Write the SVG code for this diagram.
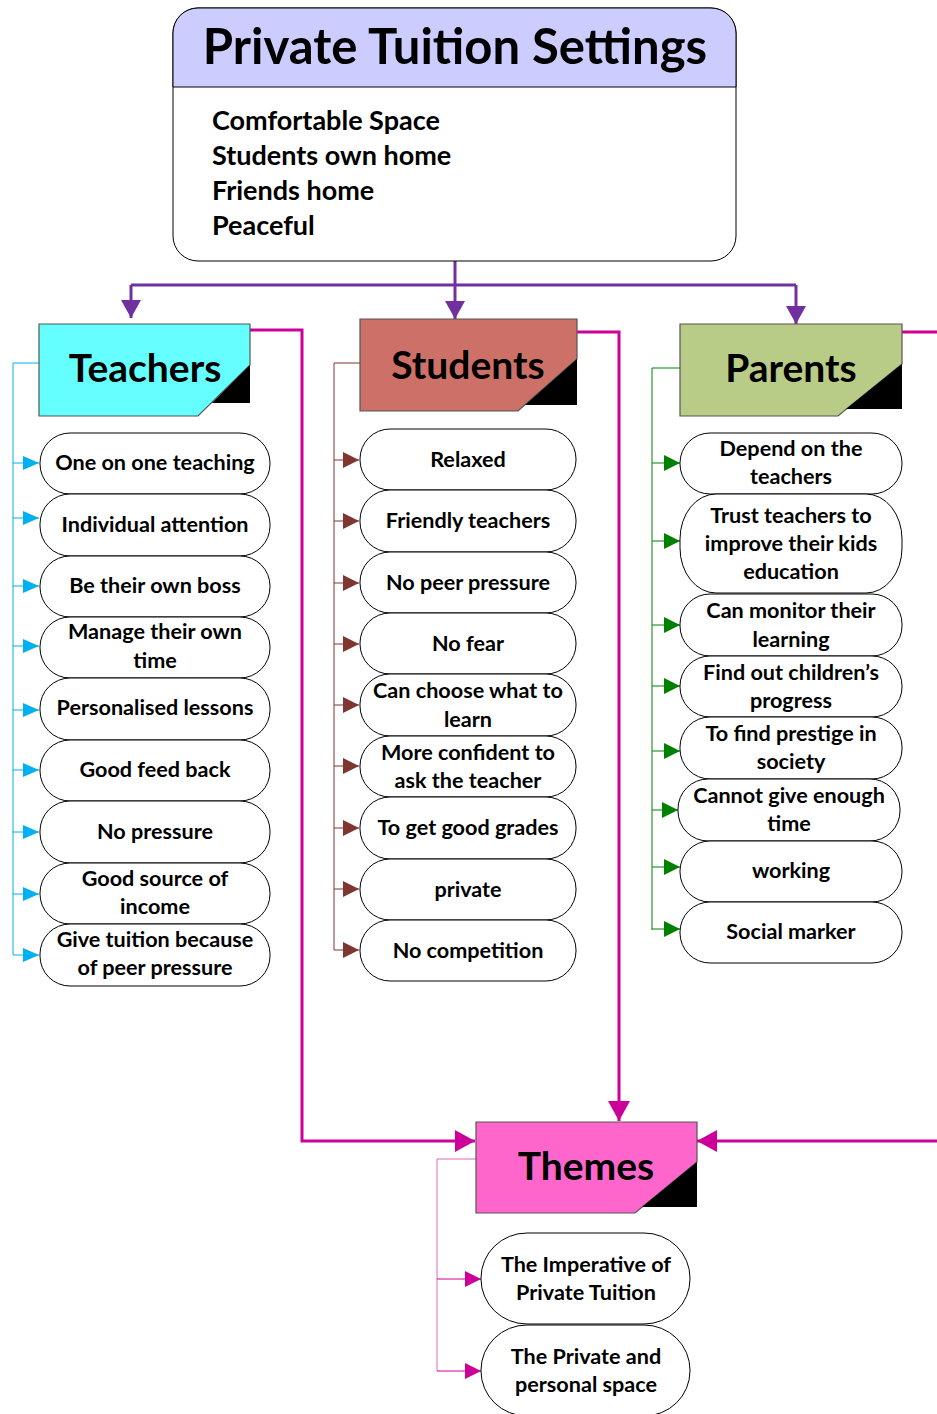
<svg xmlns="http://www.w3.org/2000/svg" width="937" height="1414" viewBox="0 0 937 1414">
<defs>
<style>
text{font-family:Lato,"Open Sans","Liberation Sans",sans-serif;font-weight:700;fill:#000}
.t{font-size:21.6px;text-anchor:middle}
.h{font-size:39px;text-anchor:middle}
.node{fill:#fff;stroke:#000;stroke-width:1}
.hdr{stroke:#555;stroke-width:1.2}
.big{fill:none;stroke-width:3}
</style>
<marker id="aP" markerUnits="userSpaceOnUse" markerWidth="20" markerHeight="20" refX="18" refY="10" orient="auto"><path d="M0,0 L18,10 L0,20 Z" fill="#7030a0"/></marker>
<marker id="aM" markerUnits="userSpaceOnUse" markerWidth="20" markerHeight="22" refX="20" refY="11" orient="auto"><path d="M0,0 L20,11 L0,22 Z" fill="#cc0099"/></marker>
<marker id="aB" markerUnits="userSpaceOnUse" markerWidth="16" markerHeight="14" refX="16" refY="7" orient="auto"><path d="M0,0 L16,7 L0,14 Z" fill="#00b0f0"/></marker>
<marker id="aR" markerUnits="userSpaceOnUse" markerWidth="16" markerHeight="16" refX="16" refY="8" orient="auto"><path d="M0,0 L16,8 L0,16 Z" fill="#7f3530"/></marker>
<marker id="aG" markerUnits="userSpaceOnUse" markerWidth="16" markerHeight="16" refX="16" refY="8" orient="auto"><path d="M0,0 L16,8 L0,16 Z" fill="#008000"/></marker>
<marker id="aT" markerUnits="userSpaceOnUse" markerWidth="16" markerHeight="16" refX="16" refY="8" orient="auto"><path d="M0,0 L16,8 L0,16 Z" fill="#cc0099"/></marker>
</defs>
<rect width="937" height="1414" fill="#fff"/>

<g id="connectors">
<path class="big" stroke="#7030a0" d="M455,261 V285 M131,285 H796"/>
<path class="big" stroke="#7030a0" d="M131,285 V318" marker-end="url(#aP)"/>
<path class="big" stroke="#7030a0" d="M455,285 V319" marker-end="url(#aP)"/>
<path class="big" stroke="#7030a0" d="M796,285 V324" marker-end="url(#aP)"/>
<path class="big" stroke="#cc0099" d="M250,330 H302 V1141 H475" marker-end="url(#aM)"/>
<path class="big" stroke="#cc0099" d="M577,332 H619 V1121" marker-end="url(#aM)"/>
<path class="big" stroke="#cc0099" d="M902,332 H937"/>
<path class="big" stroke="#cc0099" d="M937,1141 H697" marker-end="url(#aM)"/>
<g fill="none" stroke="#00b0f0" stroke-width="1">
<path d="M39,363 H13 V955"/>
<path d="M13,463 H39" marker-end="url(#aB)"/>
<path d="M13,518 H39" marker-end="url(#aB)"/>
<path d="M13,586 H39" marker-end="url(#aB)"/>
<path d="M13,646 H39" marker-end="url(#aB)"/>
<path d="M13,710 H39" marker-end="url(#aB)"/>
<path d="M13,770 H39" marker-end="url(#aB)"/>
<path d="M13,832 H39" marker-end="url(#aB)"/>
<path d="M13,894 H39" marker-end="url(#aB)"/>
<path d="M13,955 H39" marker-end="url(#aB)"/>
</g>
<g fill="none" stroke="#7f3530" stroke-width="1">
<path d="M360,363 H334 V950"/>
<path d="M334,460 H359" marker-end="url(#aR)"/>
<path d="M334,521 H359" marker-end="url(#aR)"/>
<path d="M334,583 H359" marker-end="url(#aR)"/>
<path d="M334,644 H359" marker-end="url(#aR)"/>
<path d="M334,705 H359" marker-end="url(#aR)"/>
<path d="M334,766 H359" marker-end="url(#aR)"/>
<path d="M334,828 H359" marker-end="url(#aR)"/>
<path d="M334,889 H359" marker-end="url(#aR)"/>
<path d="M334,950 H359" marker-end="url(#aR)"/>
</g>
<g fill="none" stroke="#008000" stroke-width="1">
<path d="M680,368 H652 V930"/>
<path d="M652,463 H680" marker-end="url(#aG)"/>
<path d="M652,541 H680" marker-end="url(#aG)"/>
<path d="M652,625 H680" marker-end="url(#aG)"/>
<path d="M652,686 H680" marker-end="url(#aG)"/>
<path d="M652,751 H680" marker-end="url(#aG)"/>
<path d="M652,810 H678" marker-end="url(#aG)"/>
<path d="M652,867 H680" marker-end="url(#aG)"/>
<path d="M652,929 H680" marker-end="url(#aG)"/>
</g>
<g fill="none" stroke="#cc0099" stroke-width="1">
<path d="M476,1159 H437 V1371" stroke="#e066c0"/>
<path d="M437,1279 H481" marker-end="url(#aT)"/>
<path d="M437,1371 H481" marker-end="url(#aT)"/>
</g>
</g>

<g id="settings">
<path d="M198,8 H711 A25,25 0 0 1 736,33 V236 A25,25 0 0 1 711,261 H198 A25,25 0 0 1 173,236 V33 A25,25 0 0 1 198,8 Z" fill="#fff" stroke="#000" stroke-width="1"/>
<path d="M198,8 H711 A25,25 0 0 1 736,33 V87 H173 V33 A25,25 0 0 1 198,8 Z" fill="#ccccff" stroke="#000" stroke-width="1"/>
<text x="455" y="64" font-size="49" text-anchor="middle">Private Tuition Settings</text>
<text x="212" y="130" font-size="27">Comfortable Space</text>
<text x="212" y="165" font-size="27">Students own home</text>
<text x="212" y="200" font-size="27">Friends home</text>
<text x="212" y="235" font-size="27">Peaceful</text>
</g>

<g id="teachers">
<path class="hdr" d="M39,324 H250 V365 L198,416 H39 Z" fill="#66ffff"/>
<path d="M250,365 V403 H212 Z" fill="#000"/>
<text class="h" x="145" y="382">Teachers</text>
</g>
<g id="t1"><rect class="node" x="40" y="433" width="230" height="61" rx="30" ry="30"/><text class="t" x="155" y="470">One on one teaching</text></g>
<g id="t2"><rect class="node" x="40" y="494" width="230" height="62" rx="30" ry="30"/><text class="t" x="155" y="532">Individual attention</text></g>
<g id="t3"><rect class="node" x="40" y="556" width="230" height="61" rx="30" ry="30"/><text class="t" x="155" y="593">Be their own boss</text></g>
<g id="t4"><rect class="node" x="40" y="617" width="230" height="61" rx="30" ry="30"/><text class="t" x="155" y="639">Manage their own</text><text class="t" x="155" y="668">time</text></g>
<g id="t5"><rect class="node" x="40" y="678" width="230" height="62" rx="30" ry="30"/><text class="t" x="155" y="715">Personalised lessons</text></g>
<g id="t6"><rect class="node" x="40" y="740" width="230" height="61" rx="30" ry="30"/><text class="t" x="155" y="777">Good feed back</text></g>
<g id="t7"><rect class="node" x="40" y="801" width="230" height="62" rx="30" ry="30"/><text class="t" x="155" y="839">No pressure</text></g>
<g id="t8"><rect class="node" x="40" y="863" width="230" height="61" rx="30" ry="30"/><text class="t" x="155" y="886">Good source of</text><text class="t" x="155" y="914">income</text></g>
<g id="t9"><rect class="node" x="40" y="924" width="230" height="62" rx="30" ry="30"/><text class="t" x="155" y="947">Give tuition because</text><text class="t" x="155" y="975">of peer pressure</text></g>

<g id="students">
<path class="hdr" d="M360,319 H577 V359 L518,411 H360 Z" fill="#cd7068"/>
<path d="M577,359 V405 H525 Z" fill="#000"/>
<text class="h" x="468" y="379">Students</text>
</g>
<g id="s1"><rect class="node" x="360" y="429" width="216" height="61" rx="30" ry="30"/><text class="t" x="468" y="467">Relaxed</text></g>
<g id="s2"><rect class="node" x="360" y="490" width="216" height="62" rx="30" ry="30"/><text class="t" x="468" y="528">Friendly teachers</text></g>
<g id="s3"><rect class="node" x="360" y="552" width="216" height="61" rx="30" ry="30"/><text class="t" x="468" y="590">No peer pressure</text></g>
<g id="s4"><rect class="node" x="360" y="613" width="216" height="61" rx="30" ry="30"/><text class="t" x="468" y="651">No fear</text></g>
<g id="s5"><rect class="node" x="360" y="674" width="216" height="62" rx="30" ry="30"/><text class="t" x="468" y="698">Can choose what to</text><text class="t" x="468" y="727">learn</text></g>
<g id="s6"><rect class="node" x="360" y="736" width="216" height="61" rx="30" ry="30"/><text class="t" x="468" y="760">More confident to</text><text class="t" x="468" y="788">ask the teacher</text></g>
<g id="s7"><rect class="node" x="360" y="797" width="216" height="62" rx="30" ry="30"/><text class="t" x="468" y="835">To get good grades</text></g>
<g id="s8"><rect class="node" x="360" y="859" width="216" height="61" rx="30" ry="30"/><text class="t" x="468" y="897">private</text></g>
<g id="s9"><rect class="node" x="360" y="920" width="216" height="61" rx="30" ry="30"/><text class="t" x="468" y="958">No competition</text></g>

<g id="parents">
<path class="hdr" d="M680,324 H902 V364 L838,416 H680 Z" fill="#b8cc88"/>
<path d="M902,364 V409 H846 Z" fill="#000"/>
<text class="h" x="791" y="382">Parents</text>
</g>
<g id="p1"><rect class="node" x="680" y="433" width="222" height="61" rx="30" ry="30"/><text class="t" x="791" y="456">Depend on the</text><text class="t" x="791" y="484">teachers</text></g>
<g id="p2"><rect class="node" x="680" y="494" width="222" height="99" rx="36" ry="45"/><text class="t" x="791" y="523">Trust teachers to</text><text class="t" x="791" y="551">improve their kids</text><text class="t" x="791" y="579">education</text></g>
<g id="p3"><rect class="node" x="680" y="594" width="222" height="62" rx="30" ry="30"/><text class="t" x="791" y="618">Can monitor their</text><text class="t" x="791" y="647">learning</text></g>
<g id="p4"><rect class="node" x="680" y="656" width="222" height="61" rx="30" ry="30"/><text class="t" x="791" y="680">Find out children’s</text><text class="t" x="791" y="708">progress</text></g>
<g id="p5"><rect class="node" x="680" y="717" width="222" height="62" rx="30" ry="30"/><text class="t" x="791" y="741">To find prestige in</text><text class="t" x="791" y="769">society</text></g>
<g id="p6"><rect class="node" x="678" y="779" width="222" height="62" rx="30" ry="30"/><text class="t" x="789" y="803">Cannot give enough</text><text class="t" x="789" y="831">time</text></g>
<g id="p7"><rect class="node" x="680" y="841" width="222" height="61" rx="30" ry="30"/><text class="t" x="791" y="878">working</text></g>
<g id="p8"><rect class="node" x="680" y="902" width="222" height="61" rx="30" ry="30"/><text class="t" x="791" y="939">Social marker</text></g>

<g id="themes">
<path class="hdr" d="M476,1122 H697 V1162 L635,1213 H476 Z" fill="#ff66cc"/>
<path d="M697,1162 V1207 H642 Z" fill="#000"/>
<text class="h" x="586" y="1180">Themes</text>
</g>
<g id="th1"><rect class="node" x="481" y="1233" width="209" height="91" rx="46" ry="45"/><text class="t" x="586" y="1272">The Imperative of</text><text class="t" x="586" y="1300">Private Tuition</text></g>
<g id="th2"><rect class="node" x="481" y="1325" width="209" height="91" rx="46" ry="45"/><text class="t" x="586" y="1364">The Private and</text><text class="t" x="586" y="1392">personal space</text></g>
</svg>
